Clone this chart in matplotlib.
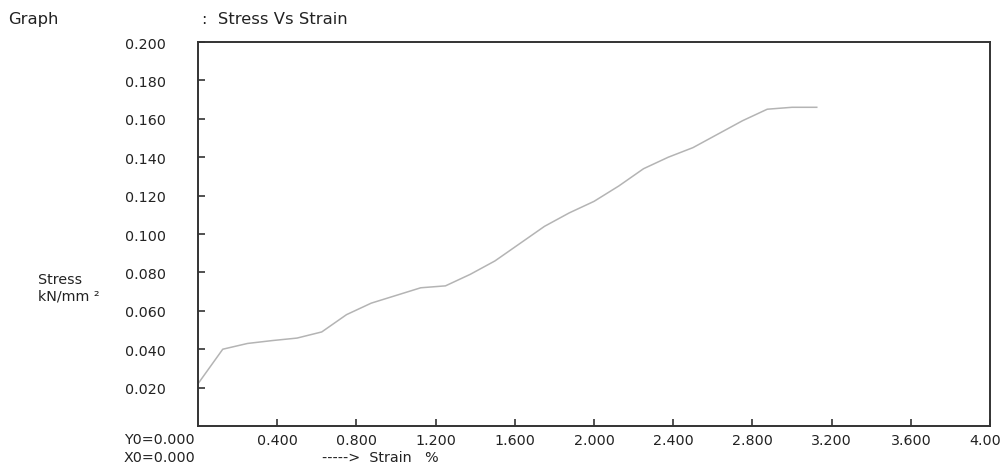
import numpy as np
import matplotlib
matplotlib.use("Agg")
import matplotlib.pyplot as plt

plt.rcParams['font.family'] = ['DejaVu Sans']

# stress vs strain readings
strain = [0.0, 0.125, 0.25, 0.375, 0.5, 0.625, 0.75, 0.875, 1.0, 1.125, 1.25,
          1.375, 1.5, 1.625, 1.75, 1.875, 2.0, 2.125, 2.25, 2.375, 2.5,
          2.625, 2.75, 2.875, 3.0, 3.125]
stress = [0.022, 0.040, 0.043, 0.0445, 0.0458, 0.049, 0.058, 0.064, 0.068,
          0.072, 0.073, 0.079, 0.086, 0.095, 0.104, 0.111, 0.117, 0.125,
          0.134, 0.140, 0.145, 0.152, 0.159, 0.165, 0.166, 0.166]

x_ticks = [0.4, 0.8, 1.2, 1.6, 2.0, 2.4, 2.8, 3.2, 3.6, 4.0]
y_ticks = [0.02, 0.04, 0.06, 0.08, 0.10, 0.12, 0.14, 0.16, 0.18, 0.20]

txt = '#222222'
fs = 10.3
fs_head = 11.8

fig = plt.figure(figsize=(10, 4.64), dpi=100)
ax = fig.add_axes([0.198, 0.0797, 0.792, 0.8276])

ax.plot(strain, stress, color='#b4b4b4', lw=1.1)

ax.set_xlim(0, 4.0)
ax.set_ylim(0, 0.2)
ax.set_xticks(x_ticks)
ax.set_yticks(y_ticks)
ax.set_xticklabels([f"{v:.3f}" for v in x_ticks])
ax.set_yticklabels([f"{v:.3f}" for v in y_ticks])
ax.tick_params(axis='both', direction='in', length=5, width=1.2,
               color='#333333', labelcolor=txt, labelsize=fs)
ax.tick_params(axis='y', pad=23)
ax.tick_params(axis='x', pad=5)
for s in ax.spines.values():
    s.set_color('#333333')
    s.set_linewidth(1.4)

fig.text(0.008, 0.958, "Graph", fontsize=fs_head, color=txt, va='center')
fig.text(0.202, 0.958, ":  Stress Vs Strain", fontsize=fs_head, color=txt, va='center')
fig.text(0.038, 0.397, "Stress", fontsize=fs, color=txt, va='center')
fig.text(0.038, 0.360, "kN/mm \u00b2", fontsize=fs, color=txt, va='center')
fig.text(0.124, 0.052, "Y0=0.000", fontsize=fs, color=txt, va='center')
fig.text(0.124, 0.013, "X0=0.000", fontsize=fs, color=txt, va='center')
fig.text(0.322, 0.013, "----->  Strain   %", fontsize=fs, color=txt, va='center')

fig.savefig("out.png", dpi=100)
